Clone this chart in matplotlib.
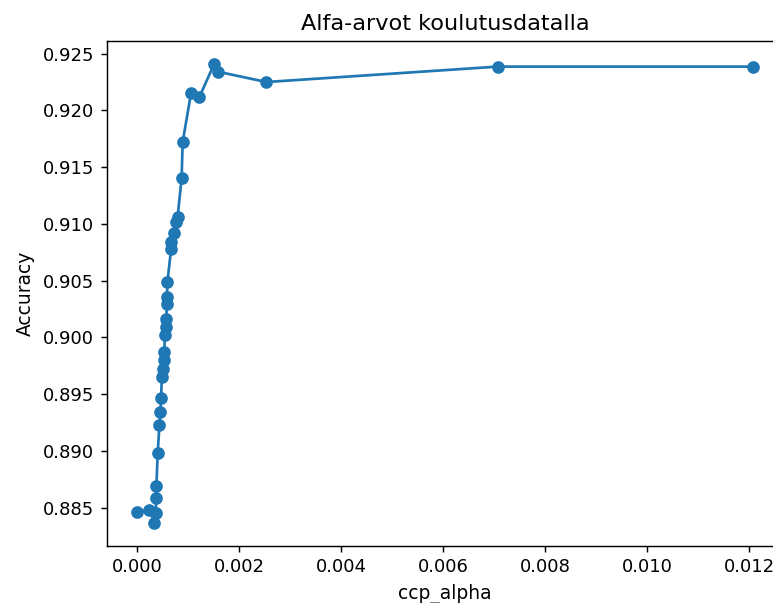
import numpy as np
import matplotlib
matplotlib.use("Agg")
import matplotlib.pyplot as plt

# ccp_alpha values and training accuracy
ccp_alphas = [0.0, 0.000235, 0.000333, 0.000362, 0.000365, 0.000372,
              0.000397, 0.000431, 0.000450, 0.000464, 0.000479, 0.000495,
              0.000515, 0.000528, 0.000538, 0.000562, 0.000565, 0.000577,
              0.000580, 0.000587, 0.000660, 0.000662, 0.000724, 0.000757,
              0.000789, 0.000867, 0.000887, 0.001051, 0.001213, 0.001507,
              0.001572, 0.002530, 0.007070, 0.012080]
train_acc = [0.88463, 0.88481, 0.88367, 0.88454, 0.88586, 0.88691,
             0.88980, 0.89225, 0.89339, 0.89470, 0.89654, 0.89724,
             0.89803, 0.89873, 0.90022, 0.90092, 0.90162, 0.90293,
             0.90355, 0.90486, 0.90775, 0.90845, 0.90924, 0.91020,
             0.91064, 0.91405, 0.91721, 0.92150, 0.92115, 0.92412,
             0.92342, 0.92250, 0.92386, 0.92386]

dpi = 130
fig = plt.figure(figsize=(773 / dpi, 603 / dpi), dpi=dpi)
ax = fig.add_axes([0.138, 0.095, 0.876, 0.8375])

ax.plot(ccp_alphas, train_acc, marker='o')
ax.set_xlabel('ccp_alpha', fontsize=10.3)
ax.set_ylabel('Accuracy', fontsize=10.3)
ax.set_title('Alfa-arvot koulutusdatalla', fontsize=12.4)

fig.savefig('out.png', dpi=dpi)
